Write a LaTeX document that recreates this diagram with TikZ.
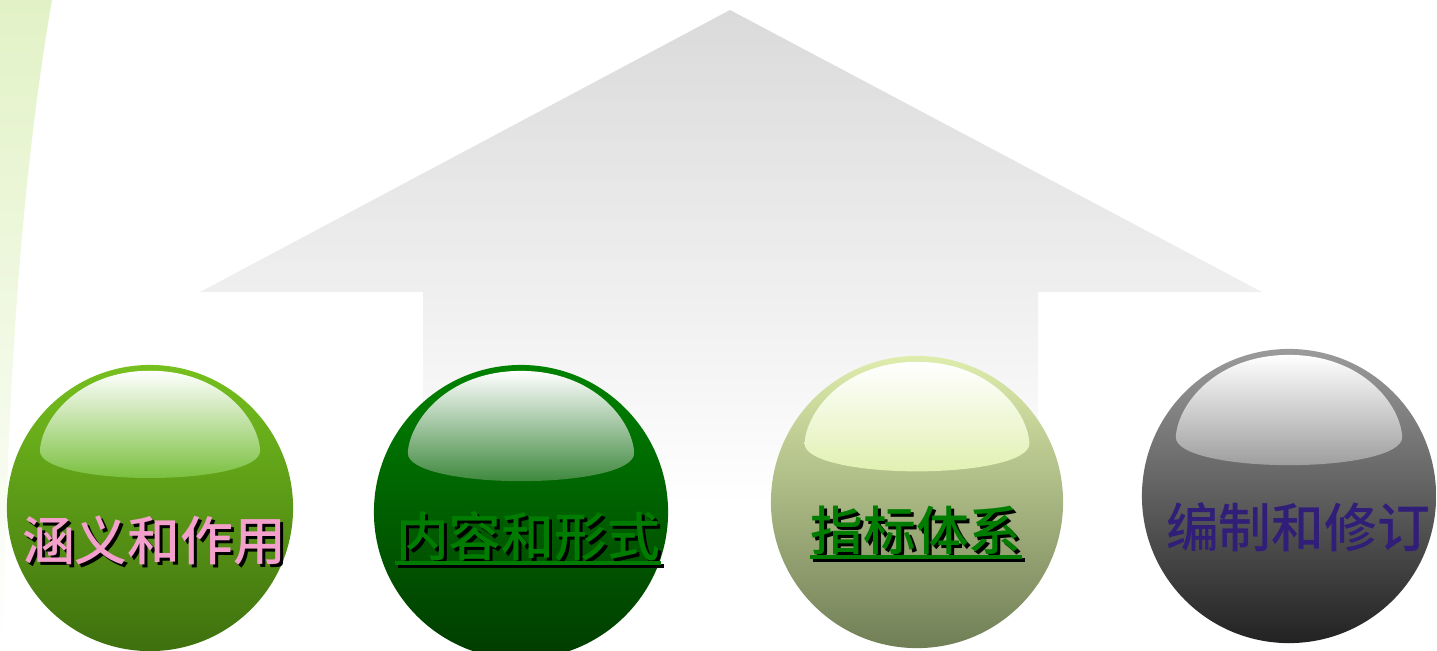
\documentclass[tikz,border=0pt]{standalone}
\usepackage{fontspec}
\newfontfamily\cjk{Noto Sans CJK SC}[UprightFont={* Medium}]
\usetikzlibrary{calc}

\definecolor{bandgreen}{RGB}{226,242,198}
\definecolor{arrowgrey}{RGB}{218,218,218}
\definecolor{ballAtop}{RGB}{118,192,30}
\definecolor{ballAbot}{RGB}{62,112,14}
\definecolor{shineA}{RGB}{122,192,62}
\definecolor{ballBtop}{RGB}{0,130,0}
\definecolor{ballBbot}{RGB}{0,60,0}
\definecolor{shineB}{RGB}{62,136,62}
\definecolor{ballCtop}{RGB}{222,236,172}
\definecolor{ballCbot}{RGB}{112,126,86}
\definecolor{shineC}{RGB}{226,240,178}
\definecolor{ballDtop}{RGB}{155,155,155}
\definecolor{ballDbot}{RGB}{34,34,34}
\definecolor{shineD}{RGB}{158,158,158}
\definecolor{pinktext}{RGB}{244,160,204}
\definecolor{greentext}{RGB}{0,124,0}
\definecolor{indigotext}{RGB}{48,30,120}

\tikzset{
  ball/.style={circle, inner sep=0pt, minimum size=#1},
  caption/.style={anchor=base, inner sep=0pt, font=\cjk\fontsize{15}{18}\selectfont},
  shadowtext/.style={caption, text=black},
  uline/.style={line width=1.1pt}
}

\begin{document}
\begin{tikzpicture}[x=0.01cm,y=-0.01cm]
\useasboundingbox (0,0) rectangle (1437,650);

% left band and big arrow
\shade[top color=bandgreen, bottom color=white] (0,0) -- (52,0) .. controls (26,150) and (6,360) .. (4,650) -- (0,650) -- cycle;
\shade[top color=arrowgrey, bottom color=white] (730,10) -- (1262,292) -- (1038,292) -- (1038,505) -- (423,505) -- (423,292) -- (200,292) -- cycle;

% balls
\node[ball=2.86cm, top color=ballAtop, bottom color=ballAbot] (b1) at (150,508) {};
\node[ball=2.94cm, top color=ballBtop, bottom color=ballBbot] (b2) at (521,512) {};
\node[ball=2.92cm, top color=ballCtop, bottom color=ballCbot] (b3) at (917,502) {};
\node[ball=2.94cm, top color=ballDtop, bottom color=ballDbot] (b4) at (1289,496) {};

% shine on top of each ball
\begin{scope}[shift={(b1)}, scale=1.43]
\shade[top color=white, bottom color=shineA] (-77,-40) .. controls (-76,-62) and (-50,-96) .. (0,-96) .. controls (50,-96) and (76,-62) .. (77,-40) .. controls (77,-28) and (40,-21) .. (0,-21) .. controls (-40,-21) and (-77,-28) .. (-77,-40);
\end{scope}
\begin{scope}[shift={(b2)}, scale=1.47]
\shade[top color=white, bottom color=shineB] (-77,-40) .. controls (-76,-62) and (-50,-96) .. (0,-96) .. controls (50,-96) and (76,-62) .. (77,-40) .. controls (77,-28) and (40,-21) .. (0,-21) .. controls (-40,-21) and (-77,-28) .. (-77,-40);
\end{scope}
\begin{scope}[shift={(b3)}, scale=1.46]
\shade[top color=white, bottom color=shineC] (-77,-40) .. controls (-76,-62) and (-50,-96) .. (0,-96) .. controls (50,-96) and (76,-62) .. (77,-40) .. controls (77,-28) and (40,-21) .. (0,-21) .. controls (-40,-21) and (-77,-28) .. (-77,-40);
\end{scope}
\begin{scope}[shift={(b4)}, scale=1.47]
\shade[top color=white, bottom color=shineD] (-77,-40) .. controls (-76,-62) and (-50,-96) .. (0,-96) .. controls (50,-96) and (76,-62) .. (77,-40) .. controls (77,-28) and (40,-21) .. (0,-21) .. controls (-40,-21) and (-77,-28) .. (-77,-40);
\end{scope}

% captions
\node[shadowtext] (t1s) at (157,563) {涵义和作用};
\node[caption, text=pinktext] (t1) at (154,560) {涵义和作用};

\node[shadowtext] (t2s) at (531,559) {内容和形式};
\draw[uline] ($(t2s.base west)+(0,7)$) -- ($(t2s.base east)+(0,7)$);
\node[caption, text=greentext] (t2) at (528,556) {内容和形式};
\draw[uline, greentext] ($(t2.base west)+(0,7)$) -- ($(t2.base east)+(0,7)$);

\node[shadowtext] (t3s) at (919,553) {指标体系};
\draw[uline] ($(t3s.base west)+(0,7)$) -- ($(t3s.base east)+(0,7)$);
\node[caption, text=greentext] (t3) at (916,550) {指标体系};
\draw[uline, greentext] ($(t3.base west)+(0,7)$) -- ($(t3.base east)+(0,7)$);

\node[caption, text=indigotext] (t4) at (1298,547) {编制和修订};
\end{tikzpicture}
\end{document}
